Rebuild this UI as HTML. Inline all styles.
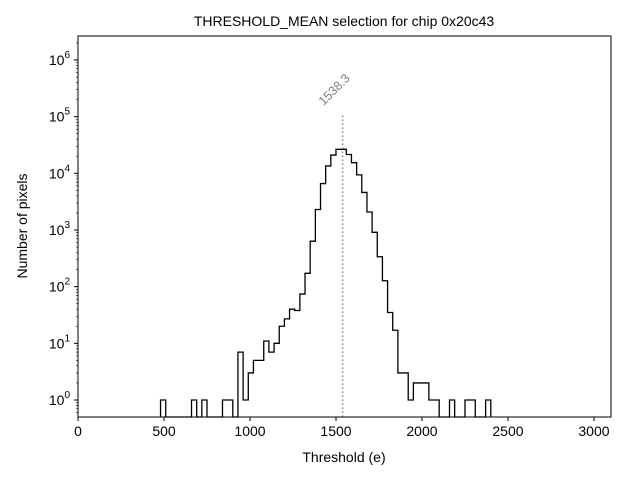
<!DOCTYPE html>
<html><head><meta charset="utf-8"><style>
body{margin:0;background:#fff;}
svg{font-family:"Liberation Sans","DejaVu Sans",sans-serif;}
</style></head><body>
<svg id="chart" width="640" height="480" xmlns="http://www.w3.org/2000/svg">
<rect width="640" height="480" fill="#fff"/>
<text x="344" y="26" font-size="14" text-anchor="middle">THRESHOLD_MEAN selection for chip 0x20c43</text>
<text x="344" y="462" font-size="14" text-anchor="middle">Threshold (e)</text>
<text transform="translate(27,226) rotate(-90)" font-size="14" text-anchor="middle">Number of pixels</text>
<g id="plot"></g>
</svg>
<script>
const binStart = 480;
const binWidth = 30;
const counts = [1,0,0,0,0,0,1,0,1,0,0,0,1,1,0,7,1,3,5,5,11,7,10,20,27,40,38,74,172,635,2300,6600,13500,21000,26500,26500,21500,15400,9400,4600,2080,910,337,127,35,17,3,3,1,2,2,2,1,1,0,0,1,0,0,1,1,0,0,1];
const xTicks = [0,500,1000,1500,2000,2500,3000];
const yTickExps = [0,1,2,3,4,5,6];
const meanValue = 1538.3;

const L=78,R=611,T=36,B=417;
const xMax=3099;
function xs(v){return L+(R-L)*v/xMax;}
function ys(v){return 400-56.67*Math.log10(v);}
const NS="http://www.w3.org/2000/svg";
const g=document.getElementById('plot');
function mk(t,a){const e=document.createElementNS(NS,t);for(const k in a)e.setAttribute(k,a[k]);g.appendChild(e);return e;}

let pts=[[xs(binStart),B]];
counts.forEach((c,i)=>{
  const x0=xs(binStart+i*binWidth),x1=xs(binStart+(i+1)*binWidth);
  const y=c>0?ys(c):B;
  pts.push([x0,y]);pts.push([x1,y]);
});
pts.push([xs(binStart+counts.length*binWidth),B]);
const hist=mk('polyline',{points:pts.map(p=>p.join(',')).join(' '),fill:'none',stroke:'#000','stroke-width':1.3});



const ml=mk('line',{x1:xs(meanValue),x2:xs(meanValue),y1:B,y2:113,stroke:'#808080','stroke-width':1.5,'stroke-dasharray':'1.5,2.5'});


const mt=mk('text',{x:0,y:0,'font-size':12.5,fill:'#808080',transform:`translate(${xs(meanValue)-19},${106}) rotate(-45)`});
mt.textContent=meanValue.toFixed(1);



const fr=mk('rect',{x:L,y:T,width:R-L,height:B-T,fill:'none',stroke:'#000','stroke-width':1});



xTicks.forEach(v=>{
  const x=xs(v);
  const tk=mk('line',{x1:x,x2:x,y1:B,y2:B+4,stroke:'#000'});
  
  
  const t=mk('text',{x:x,y:B+19,'font-size':14,'text-anchor':'middle'});
  t.textContent=v;
  
  
});
yTickExps.forEach(e=>{
  const y=ys(Math.pow(10,e));
  const tk=mk('line',{x1:L-4,x2:L,y1:y,y2:y,stroke:'#000'});
  
  
  const t=mk('text',{x:L-8,y:y+5,'font-size':14,'text-anchor':'end'});
  t.innerHTML='10<tspan dy="-7" font-size="10">'+e+'</tspan>';
  
  
});
for(let e=-1;e<=6;e++){for(let m=2;m<=9;m++){
  const v=m*Math.pow(10,e);const y=ys(v);
  if(y<T||y>B)continue;
  const tk=mk('line',{x1:L-2,x2:L,y1:y,y2:y,stroke:'#000','stroke-width':0.6});
  
  
}}
</script>
</body></html>
